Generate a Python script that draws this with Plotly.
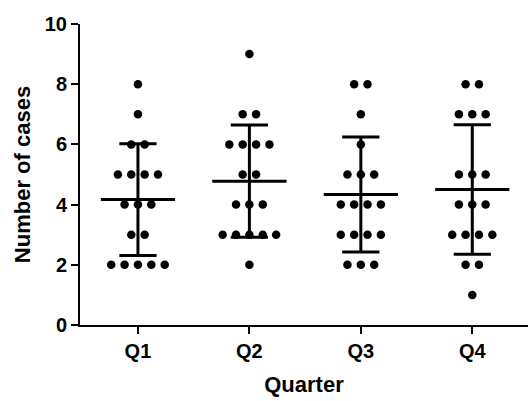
import numpy as np
import plotly.graph_objects as go

categories = ["Q1", "Q2", "Q3", "Q4"]
q1_cases = [8, 7, 6, 6, 5, 5, 5, 5, 4, 4, 4, 3, 3, 2, 2, 2, 2, 2]
q2_cases = [9, 7, 7, 6, 6, 6, 6, 5, 5, 4, 4, 4, 3, 3, 3, 3, 3, 2]
q3_cases = [8, 8, 7, 6, 5, 5, 5, 4, 4, 4, 4, 3, 3, 3, 3, 2, 2, 2]
q4_cases = [8, 8, 7, 7, 7, 5, 5, 5, 4, 4, 4, 3, 3, 3, 3, 2, 2, 1]
groups = [q1_cases, q2_cases, q3_cases, q4_cases]
y_ticks = [0, 2, 4, 6, 8, 10]

SPACING = 0.12
font = dict(family="Liberation Sans, Arial, sans-serif", color="black", weight="bold")

fig = go.Figure()
xs, ys = [], []
for gi, vals in enumerate(groups):
    vals = np.array(vals)
    for v in sorted(set(vals.tolist()), reverse=True):
        n = int((vals == v).sum())
        for k in range(n):
            xs.append(gi + (k - (n - 1) / 2) * SPACING)
            ys.append(v)
fig.add_trace(go.Scatter(x=xs, y=ys, mode="markers",
                         marker=dict(size=8.5, color="black"), cliponaxis=False,
                         showlegend=False, hoverinfo="y"))

lx, ly = [], []
for gi, vals in enumerate(groups):
    m = float(np.mean(vals))
    s = float(np.std(vals, ddof=1))
    lx += [gi - 0.333, gi + 0.333, None]
    ly += [m, m, None]
    lx += [gi, gi, None]
    ly += [m - s, m + s, None]
    lx += [gi - 0.167, gi + 0.167, None]
    ly += [m + s, m + s, None]
    lx += [gi - 0.167, gi + 0.167, None]
    ly += [m - s, m - s, None]
fig.add_trace(go.Scatter(x=lx, y=ly, mode="lines", line=dict(color="black", width=3),
                         cliponaxis=False, showlegend=False, hoverinfo="skip"))

fig.update_layout(
    width=528, height=401,
    margin=dict(l=80, r=0, t=24, b=76),
    plot_bgcolor="white", paper_bgcolor="white",
    font=font,
    xaxis=dict(range=[-0.52, 3.5], tickvals=list(range(len(categories))), ticktext=categories,
               showgrid=False, zeroline=False, showline=True, linecolor="black", linewidth=2,
               ticks="outside", ticklen=7, tickwidth=2, tickcolor="black",
               tickfont=dict(size=20, **font),
               title=dict(text="Quarter", font=dict(size=22, **font), standoff=16)),
    yaxis=dict(range=[0, 10], tickvals=y_ticks, showgrid=False, zeroline=False,
               showline=True, linecolor="black", linewidth=2,
               ticks="outside", ticklen=7, tickwidth=2, tickcolor="black",
               tickfont=dict(size=20, **font),
               title=dict(text="Number of cases", font=dict(size=22, **font), standoff=8)),
)
fig.write_html("out.html", config={"displayModeBar": False},
               post_script="document.body.style.margin='0';")
